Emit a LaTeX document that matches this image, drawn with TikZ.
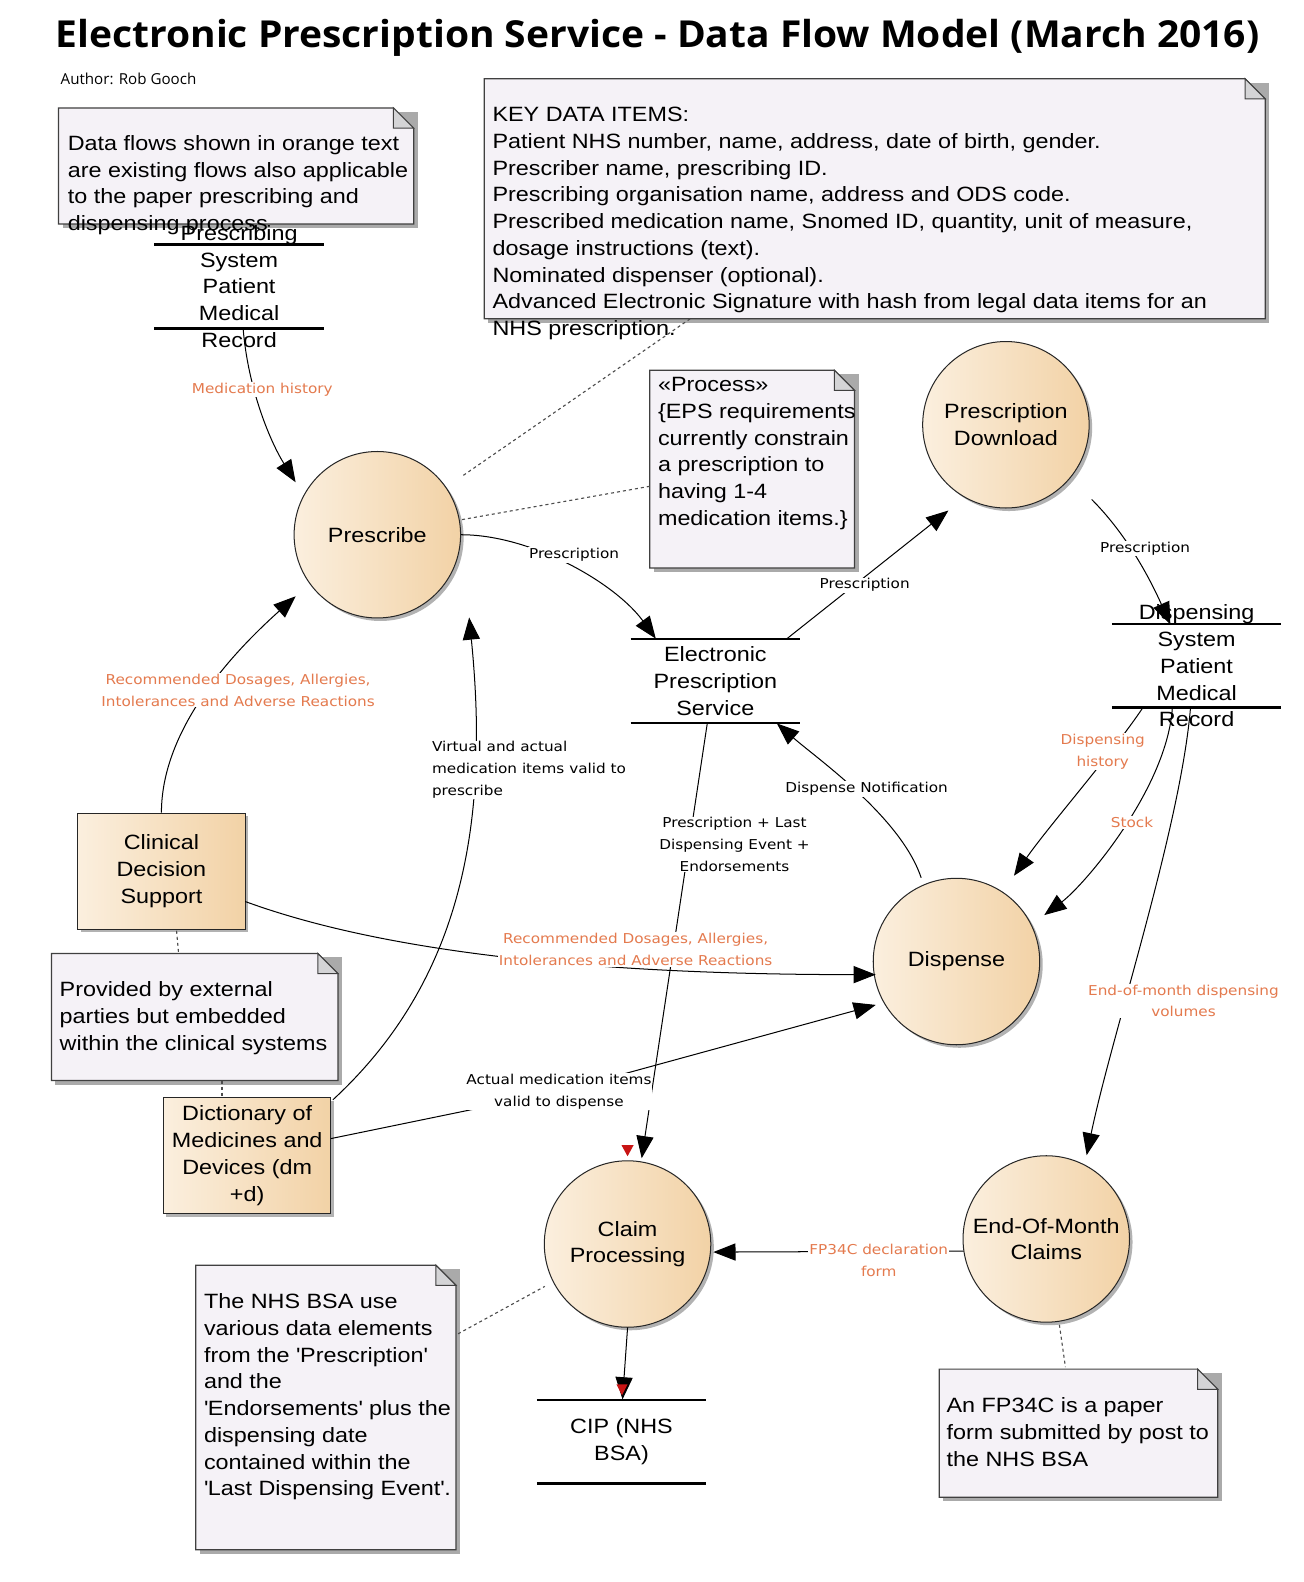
\documentclass[tikz,border=0pt]{standalone}
\usepackage{fontspec}
\setmainfont{Liberation Sans}[FakeStretch=1.13]
\newfontfamily\lblfont{DejaVu Sans}[FakeStretch=1.12]
\newfontfamily\titlefont{Open Sans}
\usetikzlibrary{arrows.meta,calc,shadows}
\definecolor{orangetxt}{RGB}{228,122,78}
\definecolor{notefill}{RGB}{245,242,247}
\definecolor{foldfill}{RGB}{212,212,214}
\definecolor{peachL}{RGB}{251,239,222}
\definecolor{peachR}{RGB}{242,210,166}
\definecolor{shadowc}{RGB}{170,170,170}
\definecolor{markred}{RGB}{200,20,20}
\newcommand{\mynote}[5]{%
  \fill[shadowc] (#2+4,#3+4) rectangle ++(#4,#5);
  \path[fill=notefill,draw=black!75,line width=1.2pt] (#2,#3) -- ++(#4-20,0) -- ++(20,20) -- ++(0,#5-20) -- ++(-#4,0) -- cycle;
  \path[fill=foldfill,draw=black!75,line width=1pt] (#2+#4-20,#3) -- ++(0,20) -- ++(20,0) -- cycle;
  \node[inner sep=0pt,outer sep=0pt,minimum width=#4pt,minimum height=#5pt,anchor=north west] (#1) at (#2,#3) {};
}
\begin{document}
\begin{tikzpicture}[x=1pt,y=-1pt,
  body/.style={font=\fontsize{20.5}{26.5}\selectfont, align=center, inner sep=0pt},
  notetxt/.style={body, align=left, anchor=north west},
  proc/.style={circle, draw=black!85, line width=1pt, minimum size=165pt, left color=peachL, right color=peachR,
     drop shadow={shadow xshift=3pt, shadow yshift=-3pt, fill=black, opacity=0.3}, body},
  ent/.style={rectangle, draw=black!85, line width=1pt, minimum width=166pt, minimum height=115pt, left color=peachL, right color=peachR,
     drop shadow={shadow xshift=3pt, shadow yshift=-3pt, fill=black, opacity=0.3}, body},
  store/.style={body},
  storeline/.style={line width=2.6pt, black},
  flow/.style={-{Triangle[length=22pt,width=17pt]}, line width=1pt, black},
  lbl/.style={font=\lblfont\fontsize{13.5}{21.5}\selectfont, fill=white, inner sep=1pt, align=center},
  olbl/.style={lbl, text=orangetxt},
  dotline/.style={dash pattern=on 3pt off 3pt, line width=1.1pt, black!70}
]
\fill[white] (0,0) rectangle (1292,1568);
\useasboundingbox (0,0) rectangle (1292,1568);

% title and author
\node[anchor=base west, inner sep=0pt] (title) at (55,47) {\resizebox{1193pt}{28pt}{\titlefont\bfseries Electronic Prescription Service - Data Flow Model (March 2016)}};
\node[anchor=base west, inner sep=0pt, font=\titlefont\fontsize{15}{17}\selectfont] (author) at (60,84) {Author: Rob Gooch};

% notes
\mynote{datanote}{58}{107}{352}{115}
\node[notetxt] (datanotetxt) at (67,134) {Data flows shown in orange text\\are existing flows also applicable\\to the paper prescribing and\\dispensing process};
\mynote{keynote}{480}{78}{774}{238}
\node[notetxt] (keynotetxt) at (488,106) {KEY DATA ITEMS:\\Patient NHS number, name, address, date of birth, gender.\\Prescriber name, prescribing ID.\\Prescribing organisation name, address and ODS code.\\Prescribed medication name, Snomed ID, quantity, unit of measure,\\dosage instructions (text).\\Nominated dispenser (optional).\\Advanced Electronic Signature with hash from legal data items for an\\NHS prescription.};
\mynote{procnote}{644}{367}{203}{196}
\node[notetxt] (procnotetxt) at (652,374) {«Process»\\\{EPS requirements\\currently constrain\\a prescription to\\having 1-4\\medication items.\}};
\mynote{provnote}{51}{945}{284}{126}
\node[notetxt] (provnotetxt) at (59,973) {Provided by external\\parties but embedded\\within the clinical systems};
\mynote{bsanote}{194}{1254}{258}{282}
\node[notetxt] (bsanotetxt) at (202,1282) {The NHS BSA use\\various data elements\\from the \textquotesingle Prescription\textquotesingle\\and the\\\textquotesingle Endorsements\textquotesingle\ plus the\\dispensing date\\contained within the\\\textquotesingle Last Dispensing Event\textquotesingle.};
\mynote{fpnote}{931}{1357}{276}{127}
\node[notetxt] (fpnotetxt) at (938,1385) {An FP34C is a paper\\form submitted by post to\\the NHS BSA};

% processes
\node[proc] (prescribe) at (374,530) {Prescribe};
\node[proc] (pd) at (997,421) {Prescription\\Download};
\node[proc] (dispense) at (948,953) {Dispense};
\node[proc] (claim) at (622,1233) {Claim\\Processing};
\node[proc] (eom) at (1037,1228) {End-Of-Month\\Claims};

% external entities
\node[ent] (cds) at (160,863.5) {Clinical\\Decision\\Support};
\node[ent] (dict) at (245,1145.5) {Dictionary of\\Medicines and\\Devices (dm\\+d)};

% data stores
\node[store] (pss) at (237,284) {Prescribing\\System\\Patient\\Medical\\Record};
\node[store] (eps) at (709,675) {Electronic\\Prescription\\Service};
\node[store] (dss) at (1186,660) {Dispensing\\System\\Patient\\Medical\\Record};
\node[store] (cip) at (616,1429) {CIP (NHS\\BSA)};
\foreach \s in {pss,eps,dss,cip}{
  \draw[storeline] ($(\s.center)+(-84,-41.5)$) -- ++(168,0);
  \draw[storeline] ($(\s.center)+(-84,41.5)$) -- ++(168,0);
}

% note links
\draw[dotline] ($(keynote.south west)+(204,0)$) -- ($(prescribe.center)+(84,-58)$);
\draw[dotline] ($(procnote.west)+(0,17)$) -- ($(prescribe.center)+(84,-15)$);
\draw[dotline] ($(cds.south)+(15,1)$) -- ($(provnote.north)+(-16,0)$);
\draw[dotline] ($(provnote.south)+(27,0)$) -- ($(dict.north)+(-25,0)$);
\draw[dotline] ($(bsanote.east)+(2,-73)$) -- ($(claim.center)+(-82,42)$);
\draw[dotline] ($(eom.south)+(13,2)$) -- ($(fpnote.north)+(-13,-2)$);

% flows
\draw[flow] ($(pss.center)+(4,42)$) .. controls +(5,60) and +(-25,-40) .. ($(prescribe.center)+(-81,-52)$);
\draw[flow] (prescribe.east) .. controls +(70,0) and +(-40,-55) .. ($(eps.center)+(-59,-42)$);
\draw[flow] ($(eps.center)+(71,-42)$) -- ($(pd.center)+(-57,85)$);
\draw[flow] ($(pd.center)+(85,74)$) .. controls +(35,35) and +(-20,-45) .. ($(dss.center)+(-26,-41)$);
\draw[flow] ($(dss.center)+(-53,41)$) .. controls +(-30,45) and +(35,-50) .. ($(dispense.center)+(57,-85)$);
\draw[flow] ($(dss.center)+(-24,41)$) .. controls +(-5,80) and +(40,-30) .. ($(dispense.center)+(87,-46)$);
\draw[flow] ($(dss.center)+(-6,41)$) .. controls +(-10,120) and +(25,-120) .. ($(eom.center)+(40,-83)$);
\draw[flow] ($(dispense.center)+(-35,-83)$) .. controls +(-20,-60) and +(40,35) .. ($(eps.center)+(61,42)$);
\draw[flow] ($(eps.center)+(-8,42)$) -- ($(claim.center)+(14,-85)$);
\draw[flow] (cds.north) .. controls +(0,-90) and +(-50,45) .. ($(prescribe.center)+(-81,61)$);
\draw[flow] ($(cds.center)+(83,30)$) .. controls +(150,55) and +(-250,0) .. ($(dispense.center)+(-80,13)$);
\draw[flow] ($(dict.center)+(85,-55.5)$) .. controls +(130,-120) and +(20,200) .. ($(prescribe.center)+(91,82)$);
\coordinate (amid) at (554,1082);
\draw[flow] ($(dict.center)+(83,-17)$) -- (amid) -- ($(dispense.center)+(-80,43)$);
\draw[flow] ($(eom.center)+(-82,12)$) -- ($(claim.center)+(85,8)$);
\draw[flow] (claim.south) -- ($(cip.center)+(1,-42)$);

% small red link markers
\fill[markred] ($(claim.center)+(-6,-98)$) -- ++(12,0) -- ++(-6,11) -- cycle;
\fill[markred] ($(cip.center)+(-5,-57)$) -- ++(11,0) -- ++(-5.5,11) -- cycle;

% flow labels
\node[olbl] (lmh) at (260,386) {Medication history};
\node[lbl] (lp1) at (569,550) {Prescription};
\node[lbl] (lp2) at (857,580) {Prescription};
\node[lbl] (lp3) at (1135,544) {Prescription};
\node[olbl] (ldh) at (1093,745) {Dispensing\\history};
\node[olbl] (lst) at (1122,815) {Stock};
\node[olbl] (leom) at (1173,992) {End-of-month dispensing\\volumes};
\node[lbl] (ldn) at (859,782) {Dispense Notification};
\node[lbl] (lpl) at (728,837) {Prescription + Last\\Dispensing Event +\\Endorsements};
\node[olbl] (lrd1) at (236,684) {Recommended Dosages, Allergies,\\Intolerances and Adverse Reactions};
\node[olbl] (lrd2) at (630,941) {Recommended Dosages, Allergies,\\Intolerances and Adverse Reactions};
\node[lbl, align=left, anchor=west] (lva) at (427,763) {Virtual and actual\\medication items valid to\\prescribe};
\node[lbl] (lam) at (amid) {Actual medication items\\valid to dispense};
\node[olbl] (lfp) at (871,1249) {FP34C declaration\\form};
\end{tikzpicture}
\end{document}
